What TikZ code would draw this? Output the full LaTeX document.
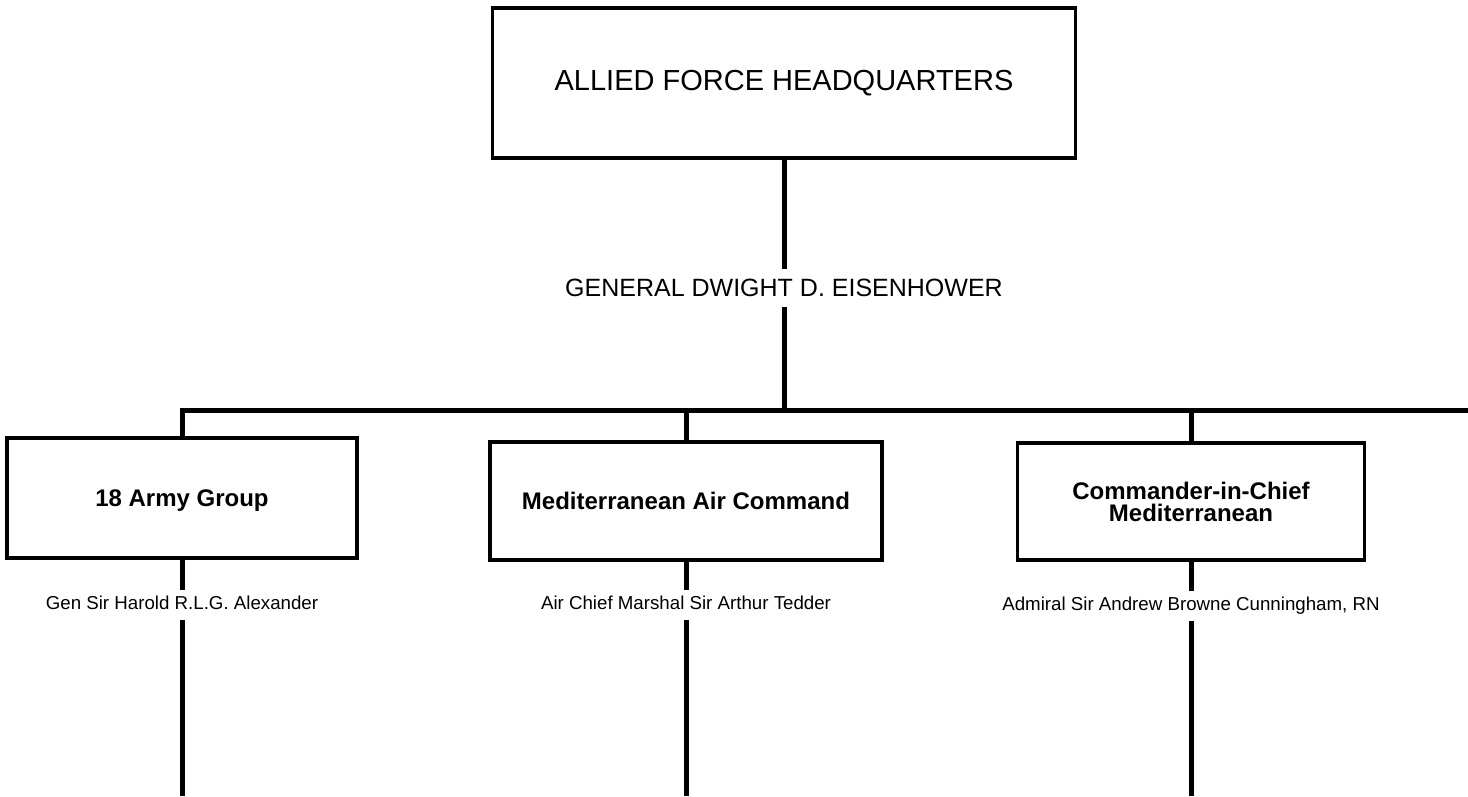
\documentclass[tikz,border=0pt]{standalone}
\usepackage{fontspec}
\setmainfont{Liberation Sans}
\usetikzlibrary{positioning}

\tikzset{
  unit/.style={draw,line width=3.5pt,align=center,inner sep=0pt,
    font=\fontsize{24}{22}\selectfont\bfseries},
  chief/.style={inner sep=6pt,text height=13.5pt,text depth=4pt,
    font=\fontsize{18.7}{20}\selectfont},
  link/.style={line width=5pt},
}

\begin{document}
\begin{tikzpicture}[x=1pt,y=-1pt]
  \useasboundingbox (0,0) rectangle (1468,796);
  % supreme command
  \node[draw,line width=3.5pt,minimum width=583pt,minimum height=150pt,
    font=\fontsize{29}{32}\selectfont] (hq) at (784,83) {ALLIED FORCE HEADQUARTERS};
  \node[inner sep=10pt,font=\fontsize{25}{28}\selectfont] (ike) at (784,288) {GENERAL DWIGHT D. EISENHOWER};
  % subordinate commands
  \node[unit,minimum width=350pt,minimum height=120pt,text depth=0pt] (ag18) at (182,498) {18 Army Group};
  \node[unit,minimum width=392pt,minimum height=118pt] (mac) at (686,501) {Mediterranean Air Command};
  \node[unit,minimum width=347pt,minimum height=117pt] (cinc) at (1191,501.5) {Commander-in-Chief\\Mediterranean};
  \node[chief] (alex) at (182,605) {Gen Sir Harold R.L.G. Alexander};
  \node[chief] (tedder) at (686,605) {Air Chief Marshal Sir Arthur Tedder};
  \node[chief] (abc) at (1191,606) {Admiral Sir Andrew Browne Cunningham, RN};
  % bar and free ends
  \coordinate (barL) at (182,410);
  \coordinate (barR) at (1468,410);
  \coordinate (bottom) at (0,796);
  \draw[link] (hq) -- (ike);
  \draw[link] (ike) -- (ike |- barL);
  \draw[link] (ag18) -- (barL) -- (barR);
  \draw[link] (mac) -- (mac |- barL);
  \draw[link] (cinc) -- (cinc |- barL);
  \draw[link] (ag18) -- (alex);
  \draw[link] (mac) -- (tedder);
  \draw[link] (cinc) -- (abc);
  \draw[link] (alex) -- (alex |- bottom);
  \draw[link] (tedder) -- (tedder |- bottom);
  \draw[link] (abc) -- (abc |- bottom);
\end{tikzpicture}
\end{document}
